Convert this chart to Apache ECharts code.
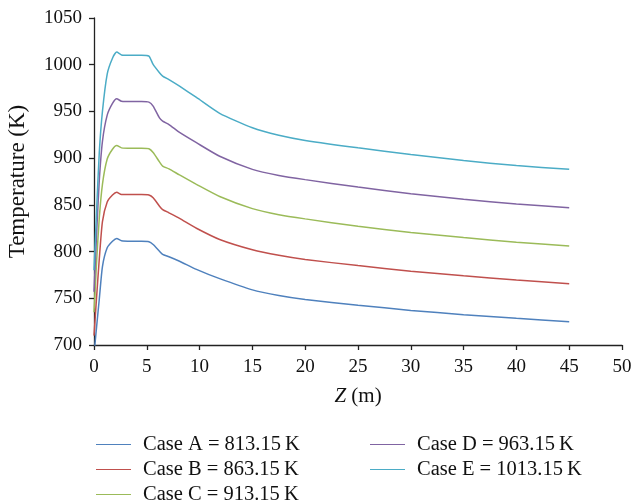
<!DOCTYPE html>
<html>
<head>
<meta charset="utf-8">
<script src="https://cdn.jsdelivr.net/npm/echarts@6/dist/echarts.min.js"></script>
<style>
  html, body { margin: 0; padding: 0; background: #fff; }
  #chart { width: 634px; height: 504px; }
</style>
</head>
<body>
<div id="chart"></div>
<script>
// Axial position along the reactor, m
const zPos = [0, 0.25, 0.5, 0.8, 1.25, 1.75, 2.15, 2.6, 3.5, 4.5, 5.2, 5.6, 6.2, 6.5, 7.1, 8.1, 9.7, 11.9, 15, 17.5, 20, 25, 30, 35, 40, 45];

// Temperature profiles (K) for each inlet case
const caseA = [690, 720, 749, 784, 804, 811, 814, 811.5, 811, 811, 810.5, 807.5, 800.4, 797, 794.5, 789.7, 781, 771, 759, 753, 748.7, 742.6, 737, 732.5, 728.5, 725];
const caseB = [710, 752, 792, 832, 853, 860.5, 863.5, 861, 861, 861, 860.5, 857.6, 848.6, 845, 841.5, 835.5, 825, 813, 802, 796, 791.5, 785, 779, 774, 769.5, 765.5];
const caseC = [735, 790, 836, 872, 899, 909.5, 913.5, 911, 910.5, 910.5, 910, 906, 896, 891.5, 888.5, 882, 872, 859, 846, 839.5, 835, 827, 820.5, 815, 810, 806];
const caseD = [757, 820, 876, 918, 946, 958.5, 963.5, 961, 960.5, 960.5, 960, 955.7, 943, 939.6, 936, 927.5, 916.5, 902, 888, 881.5, 877, 869, 862, 856, 851, 847];
const caseE = [780, 845, 906, 950, 990, 1007, 1013.5, 1010.5, 1010, 1010, 1009.2, 1000.3, 991.4, 987.8, 984, 977, 965, 948, 932.5, 924.5, 919, 911, 904, 897.5, 892, 888];

const seriesNames = [
  'Case A = 813.15\u2009K',
  'Case B = 863.15\u2009K',
  'Case C = 913.15\u2009K',
  'Case D = 963.15\u2009K',
  'Case E = 1013.15\u2009K'
];
const seriesValues = [caseA, caseB, caseC, caseD, caseE];
const colors = ['#4F81BD', '#C0504D', '#9BBB59', '#8064A2', '#4BACC6'];

const xTicks = { min: 0, max: 50, interval: 5 };
const yTicks = { min: 700, max: 1050, interval: 50 };

const serif = "'Liberation Serif', 'DejaVu Serif', serif";

const chart = echarts.init(document.getElementById('chart'), null, { renderer: 'canvas' });

const series = seriesValues.map((vals, i) => ({
  name: seriesNames[i],
  type: 'line',
  data: zPos.map((z, k) => [z, vals[k]]),
  symbol: 'none',
  smooth: 0.2,
  lineStyle: { width: 1.5, color: colors[i] },
  itemStyle: { color: colors[i] },
  animation: false
}));

// Legend slots: two columns, three rows; one entry per slot
const legendSlots = [[96, 434], [96, 459], [96, 484], [370, 434], [370, 459]];
const legends = seriesNames.map((name, i) => ({
  data: [name],
  left: legendSlots[i][0],
  top: legendSlots[i][1],
  padding: 0,
  icon: 'rect',
  itemWidth: 35,
  itemHeight: 1.2,
  textStyle: {
    fontFamily: serif,
    fontSize: 20.5,
    lineHeight: 20,
    color: '#111',
    padding: [0, 0, 0, 7]
  }
}));

chart.setOption({
  animation: false,
  color: colors,
  grid: { left: 94, right: 12, top: 18, bottom: 159, containLabel: false, outerBoundsMode: 'none' },
  xAxis: {
    type: 'value',
    min: xTicks.min, max: xTicks.max, interval: xTicks.interval,
    name: '{i|Z} (m)',
    nameLocation: 'middle',
    nameGap: 41,
    nameTextStyle: {
      fontFamily: serif, fontSize: 21, color: '#111',
      rich: { i: { fontFamily: serif, fontSize: 21, fontStyle: 'italic', color: '#111' } }
    },
    axisLine: { show: true, lineStyle: { color: '#222', width: 1.3 } },
    axisTick: { show: true, inside: false, length: 5, lineStyle: { color: '#222', width: 1.3 } },
    axisLabel: { fontFamily: serif, fontSize: 19, color: '#111', margin: 13 },
    splitLine: { show: false }
  },
  yAxis: {
    type: 'value',
    min: yTicks.min, max: yTicks.max, interval: yTicks.interval,
    name: 'Temperature (K)',
    nameLocation: 'middle',
    nameGap: 65,
    nameTextStyle: { fontFamily: serif, fontSize: 23, color: '#111' },
    axisLine: { show: true, lineStyle: { color: '#222', width: 1.3 } },
    axisTick: { show: true, inside: false, length: 5, lineStyle: { color: '#222', width: 1.3 } },
    axisLabel: { fontFamily: serif, fontSize: 19, color: '#111', margin: 12, formatter: v => String(v) },
    splitLine: { show: false }
  },
  legend: legends,
  series: series
});
</script>
</body>
</html>
